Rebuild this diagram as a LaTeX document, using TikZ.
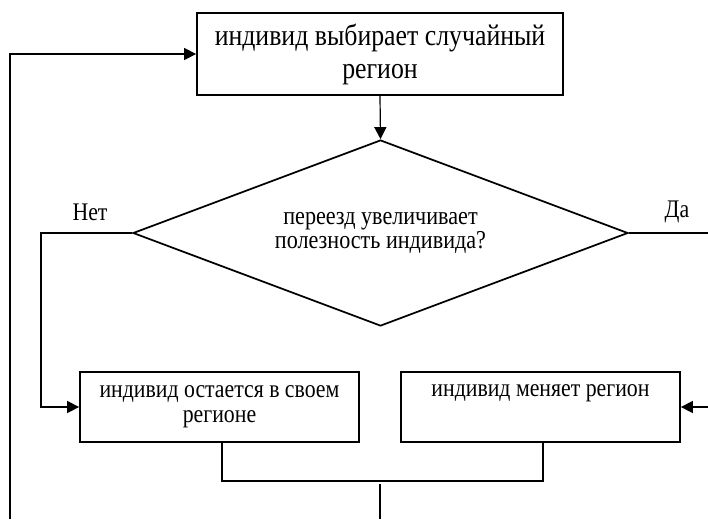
\documentclass[tikz,border=0pt]{standalone}
\usepackage{fontspec}
\setmainfont[FakeStretch=0.86]{Liberation Serif}
\usetikzlibrary{arrows.meta,shapes.geometric}
\newlength{\du}
\setlength{\du}{0.75pt}
\tikzset{
  blockbox/.style={draw=dialinecolor, line width=1.3pt, rectangle, align=center, inner sep=0pt},
  choicebox/.style={draw=dialinecolor, line width=1.3pt, diamond, aspect=2.66, align=center, inner sep=0pt,
    minimum width=495\du, minimum height=186\du},
  flowline/.style={draw=dialinecolor, line width=0.9pt},
  flowarrow/.style={flowline, -{Triangle[length=9pt,width=9pt]}},
  smalltext/.style={font=\fontsize{19}{18.75}\selectfont},
}

\begin{document}
\begin{tikzpicture}
\pgftransformxscale{1.000000}
\pgftransformyscale{-1.000000}
\definecolor{dialinecolor}{rgb}{0.000000, 0.000000, 0.000000}
\useasboundingbox (0\du,0\du) rectangle (708\du,519\du);
% blocks
\node[blockbox, minimum width=366\du, minimum height=82\du, font=\fontsize{22.5}{24.75}\selectfont] (choose) at (380\du,54\du){индивид выбирает случайный\\регион};
\node[choicebox, font=\fontsize{19.3}{15.75}\selectfont] (better) at (380.5\du,233\du){переезд увеличивает\\полезность индивида?};
\node[blockbox, smalltext, minimum width=279\du, minimum height=70\du] (stay) at (219.5\du,407\du){индивид остается в своем\\регионе};
\node[blockbox, smalltext, minimum width=279\du, minimum height=70\du] (move) at (540.5\du,407\du){индивид меняет регион\\\strut};
% labels
\node[smalltext] (no) at (90\du,212\du){Нет};
\node[smalltext] (yes) at (677\du,212\du){Да};
% free ends
\coordinate (noelbow) at (41\du,233\du);
\coordinate (yesout) at (708\du,233\du);
\coordinate (yesin) at (708\du,407\du);
\coordinate (merge) at (380\du,481\du);
\coordinate (mergeout) at (380\du,484\du);
\coordinate (loopout) at (380\du,519\du);
\coordinate (loopin) at (10\du,519\du);
% connectors
\draw[flowarrow] (choose.south) -- (better.north);
\draw[flowarrow] (better.west) -- (noelbow) |- (stay.west);
\draw[flowline] (better.east) -- (yesout);
\draw[flowarrow] (yesin) -- (move.east);
\draw[flowline] ([xshift=2.5\du]stay.south) |- (merge) -| ([xshift=2.5\du]move.south);
\draw[flowline] (mergeout) -- (loopout);
\draw[flowarrow] (loopin) |- (choose.west);
\end{tikzpicture}
\end{document}
